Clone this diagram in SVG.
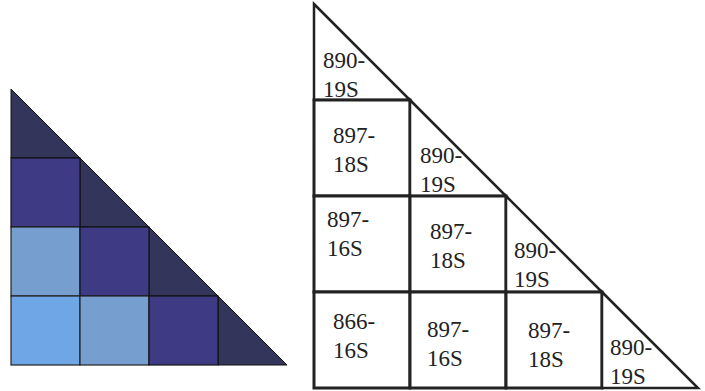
<svg xmlns="http://www.w3.org/2000/svg" width="705" height="391" viewBox="0 0 705 391">
<style>
.d{fill:#33355a;stroke:#111;stroke-width:1}
.p{fill:#3e3a83;stroke:#111;stroke-width:1.2}
.m{fill:#769ecf;stroke:#222;stroke-width:1.2}
.l{fill:#6fa6e6;stroke:#222;stroke-width:1.2}
.c{fill:#fff;stroke:#222;stroke-width:3}
.t{fill:#fff;stroke:#222;stroke-width:2.5;stroke-linejoin:miter}
text{font-family:"Liberation Serif","Times New Roman",serif;font-size:23px;fill:#222}
</style>
<g id="left">
<polygon class="d" points="11,89 80,158 11,158"/>
<polygon class="d" points="80,158 149,227 80,227"/>
<polygon class="d" points="149,227 218,296 149,296"/>
<polygon class="d" points="218,296 287,365 218,365"/>
<rect class="p" x="11" y="158" width="69" height="69"/>
<rect class="m" x="11" y="227" width="69" height="69"/>
<rect class="p" x="80" y="227" width="69" height="69"/>
<rect class="l" x="11" y="296" width="69" height="69"/>
<rect class="m" x="80" y="296" width="69" height="69"/>
<rect class="p" x="149" y="296" width="69" height="69"/>
</g>
<g id="right">
<g id="r0c0"><polygon class="t" points="314,4 410,100 314,100"/><text x="323" y="68">890-</text><text x="323" y="97">19S</text></g>
<g id="r1c0"><rect class="c" x="314" y="100" width="96" height="96"/><text x="333" y="143">897-</text><text x="333" y="172">18S</text></g>
<g id="r1c1"><polygon class="t" points="410,100 506,196 410,196"/><text x="420" y="163">890-</text><text x="420" y="192">19S</text></g>
<g id="r2c0"><rect class="c" x="314" y="196" width="96" height="96"/><text x="327" y="227">897-</text><text x="327" y="256">16S</text></g>
<g id="r2c1"><rect class="c" x="410" y="196" width="96" height="96"/><text x="430" y="239">897-</text><text x="430" y="268">18S</text></g>
<g id="r2c2"><polygon class="t" points="506,196 602,292 506,292"/><text x="514" y="258">890-</text><text x="514" y="287">19S</text></g>
<g id="r3c0"><rect class="c" x="314" y="292" width="96" height="96"/><text x="333" y="329">866-</text><text x="333" y="358">16S</text></g>
<g id="r3c1"><rect class="c" x="410" y="292" width="96" height="96"/><text x="427" y="337">897-</text><text x="427" y="366">16S</text></g>
<g id="r3c2"><rect class="c" x="506" y="292" width="96" height="96"/><text x="528" y="338">897-</text><text x="528" y="367">18S</text></g>
<g id="r3c3"><polygon class="t" points="602,292 698,388 602,388"/><text x="610" y="355">890-</text><text x="610" y="384">19S</text></g>
</g>
</svg>
